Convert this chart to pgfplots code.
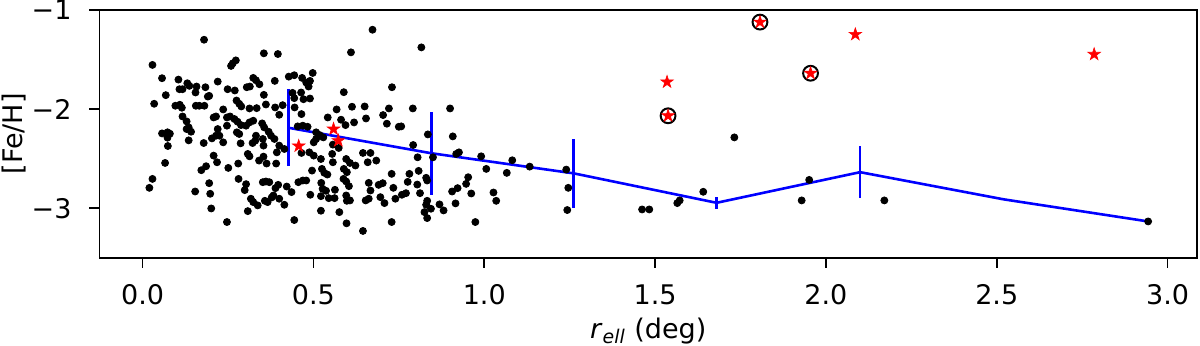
\documentclass[border=0pt]{standalone}
\usepackage{fontspec}
\setmainfont{DejaVu Sans}
\usepackage{pgfplots}
\pgfplotsset{compat=1.18}

% filled five-pointed star, like matplotlib's '*' marker
\pgfdeclareplotmark{fstar}{%
  \pgfpathmoveto{\pgfqpointpolar{90}{\pgfplotmarksize}}%
  \pgfpathlineto{\pgfqpointpolar{126}{0.382\pgfplotmarksize}}%
  \pgfpathlineto{\pgfqpointpolar{162}{\pgfplotmarksize}}%
  \pgfpathlineto{\pgfqpointpolar{198}{0.382\pgfplotmarksize}}%
  \pgfpathlineto{\pgfqpointpolar{234}{\pgfplotmarksize}}%
  \pgfpathlineto{\pgfqpointpolar{270}{0.382\pgfplotmarksize}}%
  \pgfpathlineto{\pgfqpointpolar{306}{\pgfplotmarksize}}%
  \pgfpathlineto{\pgfqpointpolar{342}{0.382\pgfplotmarksize}}%
  \pgfpathlineto{\pgfqpointpolar{18}{\pgfplotmarksize}}%
  \pgfpathlineto{\pgfqpointpolar{54}{0.382\pgfplotmarksize}}%
  \pgfpathclose
  \pgfusepathqfillstroke}

\begin{document}
\begin{tikzpicture}
\useasboundingbox (-49.75pt,-43.65pt) rectangle (550.25pt,128.9pt);
\begin{axis}[
    at={(0,0)}, anchor=south west,
    scale only axis,
    width=548.75pt, height=123.9pt,
    xmin=-0.126, xmax=3.086,
    ymin=-3.5, ymax=-1,
    xtick={0,0.5,1,1.5,2,2.5,3},
    xticklabels={0.0,0.5,1.0,1.5,2.0,2.5,3.0},
    ytick={-3,-2,-1},
    yticklabels={−3,−2,−1},
    tick align=outside,
    major tick length=5pt,
    tick style={black, line width=0.8pt},
    axis line style={line width=0.8pt},
    xtick pos=bottom, ytick pos=left,
    every tick label/.append style={font=\fontsize{13.5}{15}\selectfont},
    xticklabel style={yshift=-5pt},
    yticklabel style={xshift=-5.5pt},
    label style={font=\fontsize{13.5}{15}\selectfont},
    xlabel={\textit{r}\textsubscript{\textit{ell}} (deg)},
    ylabel={[Fe/H]},
    xlabel style={at={(axis description cs:0.5,-0.296)}, anchor=center},
    ylabel style={at={(axis description cs:-0.0775,0.5)}, anchor=center},
]
% individual stars
\addplot[only marks, mark=*, mark size=1.75pt, black] coordinates {
(0.673,-1.199) (0.180,-1.300) (0.610,-1.427) (0.355,-1.437) (0.396,-1.444)
(0.029,-1.554) (0.259,-1.564) (0.264,-1.538) (0.273,-1.508) (0.498,-1.635)
(0.057,-1.688) (0.105,-1.702) (0.131,-1.739) (0.137,-1.765) (0.158,-1.772)
(0.220,-1.722) (0.324,-1.685) (0.332,-1.709) (0.342,-1.749) (0.387,-1.715)
(0.428,-1.672) (0.444,-1.658) (0.467,-1.685) (0.479,-1.732) (0.486,-1.772)
(0.490,-1.715) (0.108,-1.799) (0.117,-1.799) (0.184,-1.779) (0.249,-1.799)
(0.270,-1.812) (0.155,-1.832) (0.305,-1.779) (0.314,-1.772) (0.355,-1.856)
(0.068,-1.859) (0.195,-1.866) (0.191,-1.873) (0.439,-1.836) (0.444,-1.889)
(0.464,-1.832) (0.471,-1.900) (0.490,-1.893) (0.589,-1.829) (0.730,-1.779)
(0.034,-1.946) (0.096,-1.966) (0.109,-1.956) (0.115,-1.986) (0.156,-1.966)
(0.166,-1.966) (0.181,-1.966) (0.275,-1.913) (0.283,-1.946) (0.289,-1.973)
(0.313,-1.993) (0.334,-1.990) (0.361,-1.953) (0.388,-1.983) (0.410,-1.960)
(0.445,-1.983) (0.568,-2.003) (0.613,-1.976) (0.650,-1.973) (0.721,-1.993)
(0.236,-2.003) (0.117,-2.074) (0.208,-2.084) (0.215,-2.074) (0.247,-2.084)
(0.256,-2.074) (0.269,-2.100) (0.278,-2.127) (0.288,-2.161) (0.303,-2.167)
(0.313,-2.134) (0.324,-2.117) (0.350,-2.144) (0.356,-2.184) (0.400,-2.057)
(0.465,-2.050) (0.542,-2.084) (0.581,-2.107) (0.594,-2.161) (0.619,-2.134)
(0.654,-2.094) (0.704,-2.060) (0.715,-2.147) (0.750,-2.178) (0.129,-2.124)
(0.135,-2.184) (0.142,-2.228) (0.129,-2.201) (0.220,-2.201) (0.215,-2.268)
(0.225,-2.268) (0.247,-2.167) (0.057,-2.245) (0.073,-2.234) (0.080,-2.248)
(0.073,-2.288) (0.276,-2.234) (0.283,-2.251) (0.332,-2.268) (0.369,-2.228)
(0.376,-2.268) (0.386,-2.301) (0.454,-2.174) (0.469,-2.167) (0.483,-2.178)
(0.508,-2.234) (0.518,-2.261) (0.074,-2.372) (0.135,-2.315) (0.179,-2.342)
(0.203,-2.295) (0.236,-2.335) (0.287,-2.345) (0.322,-2.342) (0.330,-2.318)
(0.352,-2.301) (0.354,-2.368) (0.400,-2.368) (0.415,-2.402) (0.501,-2.335)
(0.508,-2.301) (0.529,-2.285) (0.557,-2.358) (0.555,-2.452) (0.574,-2.392)
(0.645,-2.442) (0.667,-2.442) (0.488,-2.436) (0.501,-2.469) (0.465,-2.442)
(0.393,-2.436) (0.208,-2.469) (0.308,-2.452) (0.313,-2.476) (0.354,-2.479)
(0.066,-2.543) (0.218,-2.536) (0.280,-2.549) (0.341,-2.519) (0.363,-2.549)
(0.391,-2.549) (0.557,-2.536) (0.522,-2.503) (0.596,-2.503) (0.607,-2.543)
(0.623,-2.569) (0.589,-2.603) (0.598,-2.636) (0.659,-2.536) (0.684,-2.519)
(0.186,-2.576) (0.172,-2.616) (0.251,-2.593) (0.496,-2.620) (0.525,-2.603)
(0.532,-2.643) (0.541,-2.660) (0.588,-2.704) (0.596,-2.730) (0.604,-2.777)
(0.729,-2.653) (0.029,-2.704) (0.020,-2.794) (0.195,-2.747) (0.281,-2.704)
(0.303,-2.757) (0.352,-2.737) (0.361,-2.730) (0.371,-2.737) (0.397,-2.764)
(0.422,-2.781) (0.456,-2.737) (0.469,-2.720) (0.479,-2.720) (0.523,-2.744)
(0.662,-2.744) (0.691,-2.764) (0.703,-2.747) (0.154,-2.831) (0.198,-2.854)
(0.299,-2.817) (0.389,-2.797) (0.383,-2.871) (0.400,-2.904) (0.436,-2.837)
(0.491,-2.864) (0.527,-2.804) (0.537,-2.824) (0.545,-2.898) (0.562,-2.898)
(0.563,-2.814) (0.596,-2.871) (0.598,-2.925) (0.607,-2.921) (0.522,-2.878)
(0.653,-2.921) (0.662,-2.904) (0.667,-2.821) (0.696,-2.888) (0.708,-2.948)
(0.734,-2.794) (0.740,-2.904) (0.317,-2.904) (0.324,-2.938) (0.337,-2.971)
(0.358,-2.925) (0.366,-2.938) (0.378,-2.891) (0.415,-2.965) (0.201,-3.002)
(0.308,-3.029) (0.522,-3.025) (0.576,-3.039) (0.444,-3.119) (0.247,-3.139)
(0.597,-3.152) (0.729,-3.139) (0.645,-3.229)
(0.816,-1.377) (0.791,-1.993) (0.757,-2.174) (0.835,-2.255) (0.792,-2.362)
(0.805,-2.486) (0.850,-2.486) (0.900,-1.993) (0.908,-2.275) (0.918,-2.452)
(0.926,-2.436) (0.991,-2.476) (1.006,-2.603) (1.082,-2.516) (1.066,-2.643)
(1.133,-2.580) (1.240,-2.610) (1.246,-2.794) (1.243,-3.018) (0.781,-2.653)
(0.808,-2.623) (0.830,-2.693) (0.833,-2.720) (0.776,-2.734) (0.804,-2.761)
(0.771,-2.848) (0.759,-2.864) (0.812,-2.848) (0.833,-2.925) (0.830,-2.965)
(0.825,-3.039) (0.833,-3.099) (0.844,-3.005) (0.869,-2.961) (0.881,-3.022)
(0.906,-2.831) (0.922,-2.797) (0.947,-2.754) (0.953,-2.687) (0.916,-2.951)
(0.962,-2.851) (1.027,-2.841) (1.035,-2.925) (0.974,-3.139)
(1.462,-3.012) (1.483,-3.012) (1.565,-2.948) (1.572,-2.921) (1.641,-2.834)
(1.732,-2.285) (1.951,-2.714) (1.929,-2.921) (2.171,-2.921) (2.943,-3.133)
};
% binned mean with scatter
\addplot[blue, line width=1.3pt, mark=none,
    error bars/.cd, y dir=both, y explicit, error mark=none,
    error bar style={blue, line width=1.3pt}] coordinates {
(0.427,-2.188) +- (0,0.39)
(0.845,-2.445) +- (0,0.42)
(1.262,-2.648) +- (0,0.35)
(1.680,-2.945) +- (0,0.06)
(2.100,-2.636) +- (0,0.265)
(2.520,-2.910) +- (0,0)
(2.943,-3.133) +- (0,0)
};
% circled members
\addplot[only marks, mark=o, mark size=3.7pt, black, mark options={line width=1pt}] coordinates {
(1.538,-2.067) (1.807,-1.122) (1.955,-1.638)
};
% red stars
\addplot[only marks, mark=fstar, mark size=3.3pt, red, mark options={fill=red, draw=red, line width=0.3pt}] coordinates {
(0.457,-2.372) (0.559,-2.201) (0.573,-2.318) (1.535,-1.726) (1.538,-2.067)
(1.807,-1.122) (1.955,-1.638) (2.086,-1.246) (2.785,-1.447)
};
\end{axis}
\end{tikzpicture}
\end{document}
